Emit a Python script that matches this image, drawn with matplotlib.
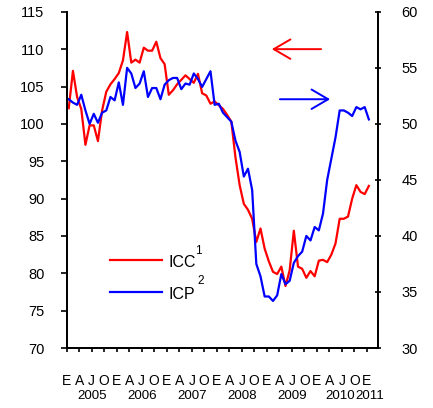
import numpy as np
import matplotlib
matplotlib.use('Agg')
import matplotlib.pyplot as plt

plt.rcParams['font.family'] = ['Liberation Sans', 'DejaVu Sans']

# monthly data, Jan 2005 .. Jan 2011
icc = [102.1, 107.1, 103.6, 102.0, 97.2, 99.8, 99.8, 97.7, 101.8, 104.3,
       105.3, 106.0, 106.8, 108.5, 112.3, 108.2, 108.6, 108.2, 110.2, 109.8,
       109.8, 111.0, 108.8, 108.0, 103.9, 104.5, 105.3, 105.9, 106.5, 106.0,
       105.5, 106.7, 104.1, 103.8, 102.7, 103.0, 102.5, 102.0, 101.2, 100.3,
       95.5, 91.8, 89.3, 88.5, 87.3, 84.2, 86.0, 83.3, 81.6, 80.2,
       79.9, 80.9, 78.3, 80.4, 85.7, 80.9, 80.6, 79.4, 80.3, 79.6,
       81.7, 81.8, 81.5, 82.5, 84.0, 87.3, 87.3, 87.6, 90.0, 91.8,
       90.9, 90.6, 91.7]
icp = [52.2, 51.9, 51.7, 52.6, 51.2, 50.0, 50.9, 50.1, 51.0, 51.2,
       52.4, 52.1, 53.7, 51.7, 55.0, 54.5, 53.2, 53.6, 54.7, 52.4,
       53.2, 53.2, 52.2, 53.5, 53.9, 54.1, 54.1, 53.1, 53.6, 53.5,
       54.5, 54.0, 53.3, 54.0, 54.7, 51.7, 51.8, 51.0, 50.6, 50.2,
       48.5, 47.5, 45.3, 46.0, 44.1, 37.5, 36.4, 34.6, 34.6, 34.2,
       34.7, 36.6, 35.7, 36.0, 37.6, 38.2, 38.6, 40.0, 39.6, 40.8,
       40.5, 42.0, 45.0, 46.9, 48.8, 51.2, 51.2, 51.0, 50.7, 51.5,
       51.3, 51.5, 50.4]
month_letters = ['E', 'A', 'J', 'O']
years = ['2005', '2006', '2007', '2008', '2009', '2010', '2011']
year_pos = [6, 18, 30, 42, 54, 65.6, 72.6]

months = np.arange(len(icc)) + 0.5

fig = plt.figure(figsize=(4.33, 4.08), dpi=100)
ax = fig.add_axes([0.154, 0.147, 0.72, 0.824])
ax2 = ax.twinx()

ax.plot(months, icc, color='#ff0000', lw=1.6)
ax2.plot(months, icp, color='#0000ff', lw=1.6)

ax.set_xlim(0, 74.8)
ax.set_ylim(70, 115)
ax2.set_ylim(30, 60)
ax.set_yticks(range(70, 116, 5))
ax2.set_yticks(range(30, 61, 5))

ticks = list(range(0, 73, 3))
ax.set_xticks(ticks)
ax.set_xticklabels([month_letters[(t // 3) % 4] for t in ticks])

for a in (ax, ax2):
    a.spines['top'].set_visible(False)
    for s in a.spines.values():
        s.set_linewidth(1.3)
ax.tick_params(axis='y', direction='out', length=4, width=1.2, pad=12, labelsize=10.5)
ax2.tick_params(axis='y', direction='inout', length=5, width=1.2, pad=14, labelsize=10.5)
ax.tick_params(axis='x', direction='out', length=3, width=1.2, pad=16, labelsize=10)

for yr, p in zip(years, year_pos):
    ax.text(p, -0.143, yr, transform=ax.get_xaxis_transform(),
            ha='center', va='center', fontsize=9.6)

# arrows showing which axis each series uses
ax.annotate('', xy=(0.658, 0.889), xytext=(0.816, 0.889), xycoords='axes fraction',
            arrowprops=dict(arrowstyle='->,head_length=0.6,head_width=0.35',
                            color='#ff0000', lw=1.4, mutation_scale=20,
                            shrinkA=0, shrinkB=0))
ax.annotate('', xy=(0.845, 0.740), xytext=(0.684, 0.740), xycoords='axes fraction',
            arrowprops=dict(arrowstyle='->,head_length=0.6,head_width=0.35',
                            color='#0000ff', lw=1.4, mutation_scale=20,
                            shrinkA=0, shrinkB=0))

# hand-made legend
ax.plot([0.138, 0.307], [0.261, 0.261], color='#ff0000', lw=1.6, transform=ax.transAxes)
ax.plot([0.138, 0.307], [0.166, 0.166], color='#0000ff', lw=1.6, transform=ax.transAxes)
ax.text(0.325, 0.255, 'ICC', transform=ax.transAxes, ha='left', va='center', fontsize=11.5)
ax.text(0.412, 0.29, '1', transform=ax.transAxes, ha='left', va='center', fontsize=8.5)
ax.text(0.325, 0.16, 'ICP', transform=ax.transAxes, ha='left', va='center', fontsize=11.5)
ax.text(0.418, 0.198, '2', transform=ax.transAxes, ha='left', va='center', fontsize=8.5)

plt.savefig('out.png', dpi=100)
plt.close()
